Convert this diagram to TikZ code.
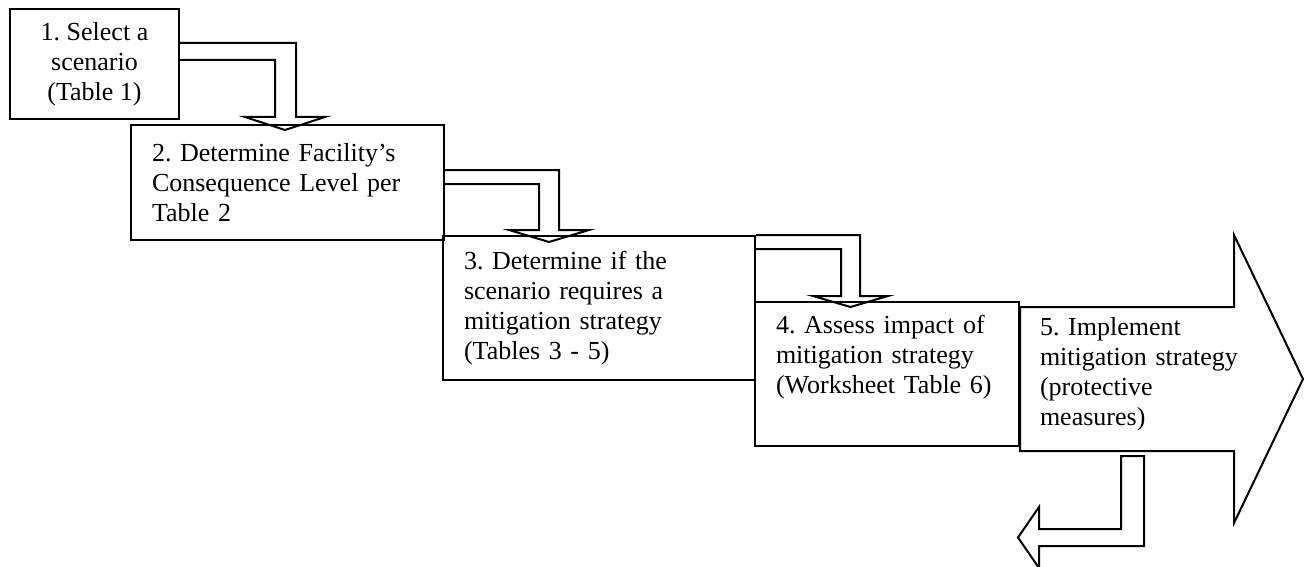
\documentclass[tikz,border=0pt]{standalone}
\usepackage{fontspec}
\setmainfont{Liberation Serif}
\begin{document}
\begin{tikzpicture}[x=0.5pt, y=-0.5pt, line width=1pt, line join=miter,stage box/.style={draw,rectangle,anchor=north west,inner xsep=10.5pt,inner ysep=0pt,align=left},block arrow/.style={draw}]%fill=white,
\useasboundingbox (0,0) rectangle (1306,567);
\begin{scope}[every node/.style={font=\fontsize{13}{15}\selectfont\frenchspacing}]
\node[stage box,align=center,inner xsep=0pt,minimum width=84.5pt,minimum height=55pt] (s1) at (9,8) {1. Select a\\scenario\\(Table 1)};
\node[stage box,text width=135.5pt,minimum height=57.5pt] (s2) at (130,124) {2. Determine Facility's\\Consequence Level per\\Table 2};
\node[stage box,text width=135pt,minimum height=72pt] (s3) at (442,235) {3. Determine if the\\scenario requires a\\mitigation strategy\\(Tables 3 - 5)};
\node[stage box,text width=111pt,minimum height=72pt] (s4) at (754,301) {4. Assess impact of\\mitigation strategy\\(Worksheet Table 6)\\\strut};
\node[stage box,draw=none,text width=100pt,minimum height=72pt] (s5) at (1018,301) {5. Implement\\mitigation strategy\\(protective\\measures)};
%\node[stage box] (s) at (,) {};
\end{scope}
\begin{scope}
\draw[block arrow] (s1.north east) ++(0,35) -- ++(116,0) -- ++(0,74) -- ++(29,0) -- ++(-40,13) -- ++(-40,-13) -- ++(30,0) -- ++(0,-57) -- ++(-95,0);
\draw[block arrow] (s2.north east) ++(0,46) -- ++(114,0) -- ++(0,60) -- ++(30,0) -- ++(-40,12) -- ++(-40,-12) -- ++(30,0) -- ++(0,-46) -- ++(-94,0);
\draw[block arrow] (s3.north east) -- ++(104,0) -- ++(0,61) -- ++(28,0) -- ++(-37.5,11) -- ++(-37.5,-11) -- ++(28,0) -- ++(0,-47) -- ++(-85,0);
\draw[block arrow] (s4.east |- 0,307) -- (1234,307) -- (1234,235) -- (1303,379) -- (1234,523) -- (1234,451) -- (s4.east |- 0,451) -- cycle;
\coordinate (back) at (1018,537.5);
\draw[block arrow] (1121,456) -- (1144,456) -- (1144,546) -- (1039,546) -- (1039,568) -- (back) -- (1039,507) -- (1039,529) -- (1121,529) -- cycle;
%\draw[block arrow] (s) ++(,) -- ++(,);
\end{scope}
\end{tikzpicture}
\end{document}
